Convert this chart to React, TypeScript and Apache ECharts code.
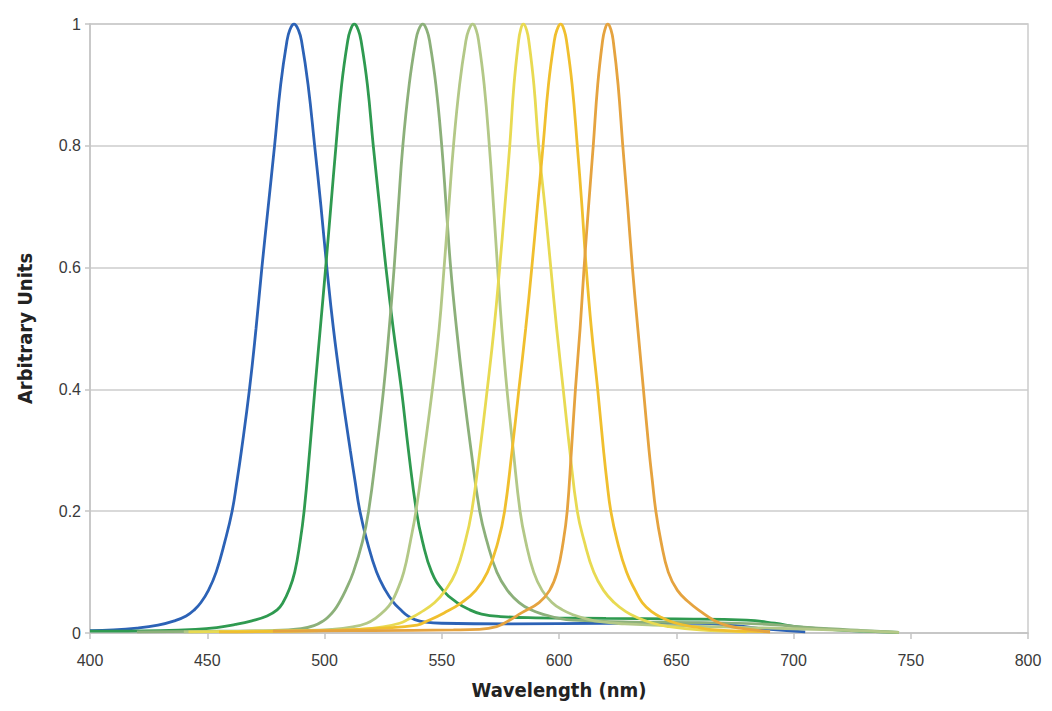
import React, { useEffect, useRef } from "react";
import * as echarts from "echarts";

const xTicks = [400, 450, 500, 550, 600, 650, 700, 750, 800];
const yTicks = [0, 0.2, 0.4, 0.6, 0.8, 1];

const blue: [number, number][] = [
  [400, 0.004], [410, 0.005], [420, 0.008], [429, 0.013], [436, 0.02], [441, 0.028], [444.5, 0.038],
  [447.3, 0.05], [450.5, 0.07], [453.8, 0.1], [457.5, 0.15], [460.6, 0.2], [462.7, 0.25], [464.6, 0.3], [468, 0.4],
  [470.8, 0.5], [473.3, 0.6], [476, 0.7], [478.7, 0.8], [481.3, 0.9], [483.9, 0.97], [485.2, 0.99],
  [487, 1.0], [488.9, 0.99], [490.3, 0.97], [493, 0.9], [495.8, 0.8], [498.5, 0.7], [501, 0.6],
  [503.8, 0.5], [507.2, 0.4], [511, 0.3], [513, 0.25], [515.1, 0.2], [518.2, 0.15], [522.2, 0.1], [526, 0.07],
  [529.5, 0.05], [532.5, 0.038], [535.5, 0.028], [538.5, 0.022], [543, 0.018], [550, 0.016],
  [580, 0.015], [620, 0.016], [660, 0.016], [675, 0.012], [690, 0.006], [705, 0.002],
];
const green: [number, number][] = [
  [400, 0.003], [430, 0.004], [445, 0.006], [454, 0.009], [462, 0.014], [469, 0.02], [475.5, 0.028],
  [479.8, 0.038], [482.3, 0.05], [484.8, 0.07], [487.3, 0.1], [489.6, 0.15], [491.3, 0.2], [493.7, 0.3],
  [495.9, 0.4], [498.2, 0.5], [500.5, 0.6], [502.7, 0.7], [504.9, 0.8], [507.3, 0.9], [509.8, 0.97],
  [511.05, 0.99], [512.7, 1.0], [514.4, 0.99], [515.7, 0.97], [518.3, 0.9], [520.8, 0.8], [523.5, 0.7],
  [526.2, 0.6], [529.3, 0.5], [532.8, 0.4], [535.8, 0.3], [539.2, 0.2], [541.8, 0.15], [545.7, 0.1],
  [550.5, 0.07], [556.5, 0.05], [562, 0.038], [567, 0.031], [575, 0.027], [590, 0.025], [620, 0.024],
  [650, 0.023], [680, 0.021], [692, 0.016], [702, 0.01], [715, 0.006], [730, 0.003], [745, 0.001],
];
const sage: [number, number][] = [
  [420, 0.002], [455, 0.003], [478, 0.004], [490, 0.007], [495.5, 0.012], [499.5, 0.02], [502, 0.028],
  [504.3, 0.038], [506.3, 0.05], [509, 0.07], [512.3, 0.1], [516.2, 0.15], [518.8, 0.2], [522.2, 0.3],
  [525.2, 0.4], [527.6, 0.5], [529.7, 0.6], [531.5, 0.7], [533.4, 0.8], [536.1, 0.9], [538.8, 0.97],
  [540.1, 0.99], [541.9, 1.0], [543.6, 0.99], [544.9, 0.97], [547.5, 0.9], [550, 0.8], [551.9, 0.7],
  [553.8, 0.6], [556.3, 0.5], [559.2, 0.4], [562.5, 0.3], [566.2, 0.2], [569.3, 0.15], [573.5, 0.1],
  [578, 0.07], [583, 0.05], [588, 0.038], [594, 0.03], [600, 0.024], [606, 0.021], [630, 0.018],
  [660, 0.017], [685, 0.015], [700, 0.011], [715, 0.007], [730, 0.004], [745, 0.001],
];
const olive: [number, number][] = [
  [440, 0.002], [470, 0.003], [490, 0.004], [503, 0.006], [512, 0.01], [518, 0.016], [522, 0.025],
  [526, 0.038], [528.5, 0.05], [531, 0.07], [533.8, 0.1], [536.6, 0.15], [539, 0.2], [542.6, 0.3],
  [546, 0.4], [548.9, 0.5], [551, 0.6], [553, 0.7], [555, 0.8], [557.6, 0.9], [560.2, 0.97],
  [561.5, 0.99], [563.2, 1.0], [564.7, 0.99], [565.8, 0.97], [568.1, 0.9], [570.3, 0.8], [572.1, 0.7],
  [573.8, 0.6], [575.6, 0.5], [577.8, 0.4], [580.5, 0.3], [583.4, 0.2], [585.8, 0.15], [589.2, 0.1],
  [592.8, 0.07], [597, 0.05], [601.5, 0.038], [606, 0.03], [611, 0.024], [617.5, 0.0185], [628, 0.015],
  [640, 0.013], [670, 0.01], [700, 0.007], [725, 0.004], [745, 0.001],
];
const yellow: [number, number][] = [
  [442, 0.002], [470, 0.003], [500, 0.004], [515, 0.006], [525, 0.01], [532, 0.016], [535.5, 0.022],
  [540.7, 0.033], [547, 0.05], [551.5, 0.07], [556, 0.1], [560, 0.15], [562.8, 0.2], [566.3, 0.3],
  [569.4, 0.4], [572.3, 0.5], [574.7, 0.6], [576.9, 0.7], [579, 0.8], [580.8, 0.9], [582.7, 0.97],
  [583.6, 0.99], [584.8, 1.0], [586.2, 0.99], [587.2, 0.97], [589.3, 0.9], [591.3, 0.8], [594, 0.7],
  [596.5, 0.6], [599, 0.5], [601.8, 0.4], [604.6, 0.3], [607.8, 0.2], [610.8, 0.15], [614.8, 0.1],
  [619, 0.07], [623.5, 0.05], [628.5, 0.035], [633.5, 0.025], [640, 0.016], [646, 0.011], [660, 0.005],
  [680, 0.002],
];
const gold: [number, number][] = [
  [455, 0.002], [500, 0.004], [525, 0.008], [539.5, 0.013], [544, 0.02], [551, 0.033], [558.5, 0.05],
  [564.5, 0.07], [569.5, 0.1], [574, 0.15], [576.8, 0.2], [580, 0.3], [582.9, 0.4], [585.8, 0.5],
  [588.4, 0.6], [590.8, 0.7], [593.2, 0.8], [595.5, 0.9], [597.9, 0.97], [599.1, 0.99], [600.7, 1.0],
  [602.2, 0.99], [603.3, 0.97], [605.6, 0.9], [607.8, 0.8], [609.8, 0.7], [611.6, 0.6], [613.8, 0.5],
  [616.5, 0.4], [619, 0.3], [620.4, 0.25], [622.1, 0.2], [624.9, 0.15], [628.8, 0.1], [632.5, 0.07], [635.5, 0.05],
  [639.5, 0.035], [644, 0.025], [650, 0.016], [658, 0.01], [667, 0.005], [690, 0.002],
];
const orange: [number, number][] = [
  [478, 0.003], [520, 0.004], [555, 0.005], [566, 0.006], [573.4, 0.0105], [578.5, 0.02], [584, 0.033],
  [591.5, 0.05], [596, 0.07], [599.2, 0.1], [601.8, 0.15], [603.5, 0.2], [605.3, 0.3], [607, 0.4],
  [609, 0.5], [610.7, 0.6], [612.6, 0.7], [614.6, 0.8], [616.5, 0.9], [618.5, 0.97], [619.5, 0.99],
  [620.8, 1.0], [622.2, 0.99], [623.2, 0.97], [625.2, 0.9], [627.2, 0.8], [629.3, 0.7], [631.3, 0.6],
  [633.6, 0.5], [636, 0.4], [638.4, 0.3], [639.8, 0.25], [641.3, 0.2], [643.5, 0.15], [646.6, 0.1], [650.5, 0.07],
  [655.5, 0.05], [660.5, 0.035], [666, 0.021], [671, 0.013], [677, 0.008], [690, 0.002],
];

const seriesList = [
  { name: "Blue", data: blue, color: "#2c62b6" },
  { name: "Green", data: green, color: "#2f9a50" },
  { name: "Sage", data: sage, color: "#8cb07a" },
  { name: "Olive", data: olive, color: "#b3c887" },
  { name: "Yellow", data: yellow, color: "#e8da52" },
  { name: "Gold", data: gold, color: "#f0bf2e" },
  { name: "Orange", data: orange, color: "#e5a33f" },
];

export default function App() {
  const ref = useRef<HTMLDivElement>(null);
  useEffect(() => {
    if (!ref.current) return;
    const chart = echarts.init(ref.current, null, { renderer: "svg" });
    chart.setOption({
      animation: false,
      backgroundColor: "#ffffff",
      grid: {
        left: 90,
        right: 24,
        top: 24,
        bottom: 78,
        show: true,
        borderColor: "#cccccc",
        borderWidth: 1.5,
      },
      xAxis: {
        type: "value",
        min: xTicks[0],
        max: xTicks[xTicks.length - 1],
        interval: 50,
        name: "Wavelength (nm)",
        nameLocation: "middle",
        nameGap: 47,
        nameTextStyle: {
          fontFamily: "'DejaVu Sans Condensed', 'Liberation Sans Narrow', 'Liberation Sans', Arial, sans-serif",
          fontWeight: "bold",
          fontSize: 20,
          color: "#222222",
        },
        axisLine: { show: true, lineStyle: { color: "#c4c4c4", width: 1.5 } },
        axisTick: { show: true, length: 6, inside: false, lineStyle: { color: "#c4c4c4", width: 1.5 } },
        axisLabel: {
          margin: 19,
          fontFamily: "'Liberation Sans', Arial, sans-serif",
          fontSize: 16,
          color: "#3a3a3a",
        },
        splitLine: { show: false },
      },
      yAxis: {
        type: "value",
        min: yTicks[0],
        max: yTicks[yTicks.length - 1],
        interval: 0.2,
        name: "Arbitrary Units",
        nameLocation: "middle",
        nameGap: 55,
        nameTextStyle: {
          fontFamily: "'DejaVu Sans Condensed', 'Liberation Sans Narrow', 'Liberation Sans', Arial, sans-serif",
          fontWeight: "bold",
          fontSize: 20,
          color: "#222222",
        },
        axisLine: { show: true, lineStyle: { color: "#c4c4c4", width: 1.5 } },
        axisTick: { show: true, length: 5, lineStyle: { color: "#c4c4c4", width: 1.5 } },
        axisLabel: {
          margin: 9,
          fontFamily: "'Liberation Sans', Arial, sans-serif",
          fontSize: 16,
          color: "#3a3a3a",
          formatter: (v: number) => String(Math.round(v * 10) / 10),
        },
        splitLine: { show: true, lineStyle: { color: "#cccccc", width: 1.5 } },
      },
      series: seriesList.map((s) => ({
        name: s.name,
        type: "line",
        data: s.data,
        showSymbol: false,
        symbol: "none",
        smooth: 0.45,
        lineStyle: { color: s.color, width: 2.8 },
        itemStyle: { color: s.color },
      })),
    });
    return () => chart.dispose();
  }, []);
  return (
    <div
      ref={ref}
      style={{ position: "fixed", left: 0, top: 0, width: 1052, height: 711, background: "#fff" }}
    />
  );
}
